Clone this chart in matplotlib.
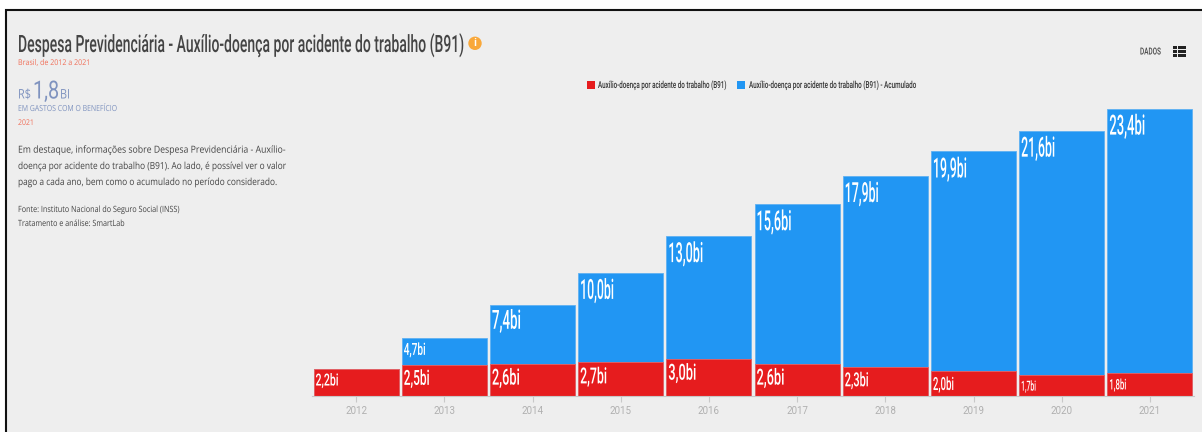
import matplotlib

matplotlib.use("Agg")
import matplotlib.pyplot as plt
from matplotlib.patches import Ellipse, Rectangle
from matplotlib.patheffects import AbstractPathEffect
from matplotlib.text import Text
from matplotlib.transforms import Affine2D, Bbox, ScaledTranslation

W, H = 1202, 432
NARROW = ["Roboto", "DejaVu Sans"]
BODY = ["Open Sans", "DejaVu Sans"]

years = ["2012", "2013", "2014", "2015", "2016", "2017", "2018", "2019", "2020", "2021"]
anual = [2.2, 2.5, 2.6, 2.7, 3.0, 2.6, 2.3, 2.0, 1.7, 1.8]
acumulado = [2.2, 4.7, 7.4, 10.0, 13.0, 15.6, 17.9, 19.9, 21.6, 23.4]
anual_labels = ["2,2bi", "2,5bi", "2,6bi", "2,7bi", "3,0bi", "2,6bi", "2,3bi", "2,0bi", "1,7bi", "1,8bi"]
acum_labels = ["", "4,7bi", "7,4bi", "10,0bi", "13,0bi", "15,6bi", "17,9bi", "19,9bi", "21,6bi", "23,4bi"]
serie_anual = "Auxílio-doença por acidente do trabalho (B91)"
serie_acum = "Auxílio-doença por acidente do trabalho (B91) - Acumulado"
paragraph = [
    "Em destaque, informações sobre Despesa Previdenciária - Auxílio-",
    "doença por acidente do trabalho (B91). Ao lado, é possível ver o valor",
    "pago a cada ano, bem como o acumulado no período considerado.",
]

anual_sizes = [12, 15, 16, 16, 16, 16, 14, 13, 10, 10.5]
anual_widths = [23, 26, 28, 27, 28, 28, 24, 21, 15, 17]
acum_sizes = [0, 12, 19, 20, 20, 20, 20, 20, 20, 20]
acum_widths = [0, 22, 29, 34, 35, 35, 34, 34, 34, 36]

RED = "#e61c1e"
BLUE = "#2196f3"
BG = "#eeeeee"
DARK = "#444444"
CORAL = "#f0705a"
SLATE = "#7f93bf"


class Squeeze(AbstractPathEffect):
    def __init__(self, factor):
        super().__init__()
        self.factor = factor

    def draw_path(self, renderer, gc, tpath, affine, rgbFace=None):
        renderer.draw_path(gc, tpath, Affine2D().scale(self.factor, 1) + affine, rgbFace)


# nenhuma fonte condensada instalada: texto real, comprimido na horizontal
class NarrowText(Text):
    squeeze = 1.0

    def set_squeeze(self, squeeze):
        self.squeeze = squeeze
        self.set_path_effects([Squeeze(squeeze)])

    def fit_width(self, width):
        self.set_squeeze(1.0)
        natural = self.get_window_extent(fig.canvas.get_renderer()).width
        self.set_squeeze(width / natural)

    def _get_layout(self, renderer):
        bb, info, descent = super()._get_layout(renderer)
        return Bbox.from_bounds(bb.x0, bb.y0, bb.width * self.squeeze, bb.height), info, descent


def px(x, y):
    return x / W, 1 - y / H


def put(x, y, s, size, width, color=DARK, family=NARROW, **kwargs):
    t = NarrowText(*px(x, y), s, fontsize=size, color=color, family=family, va="baseline", ha="left",
                   transform=fig.transFigure, **kwargs)
    fig.add_artist(t)
    t.fit_width(width)
    return t


def box(x0, y0, x1, y1, **kwargs):
    kwargs.setdefault("edgecolor", "none")
    fig.add_artist(Rectangle(px(x0, y1), (x1 - x0) / W, (y1 - y0) / H, transform=fig.transFigure, **kwargs))


fig = plt.figure(figsize=(W / 100, H / 100), dpi=100, facecolor="white")

# painel cinza com a borda preta do print
box(5.5, 9.5, 1210, 440, facecolor=BG, edgecolor="#111111", linewidth=1.5, zorder=-1)

ax = fig.add_axes([312 / W, 1 - 395.5 / H, 882 / W, 295.5 / H])
ax.patch.set_alpha(0)
x = range(len(years))
ax.bar(x, acumulado, width=0.965, color=BLUE, edgecolor="#5fb1f2", linewidth=0.6)
ax.bar(x, anual, width=0.965, color=RED, edgecolor="#ec6060", linewidth=0.6)
ax.set_xlim(-0.5, 9.5)
ax.set_ylim(0, 24.1)
ax.set_xticks(list(x))
ax.set_xticklabels(years, fontsize=7, color="#b0b0b0", family="Roboto")
ax.tick_params(axis="x", length=4, color="#c8c8c8", width=0.8, pad=3.6)
ax.set_yticks([])
for side in ["top", "left", "right"]:
    ax.spines[side].set_visible(False)
ax.spines["bottom"].set_color("#c8c8c8")

label_tf = ax.transData + ScaledTranslation(0, -3.6 / 72, fig.dpi_scale_trans)
for i in x:
    t = NarrowText(i - 0.46, anual[i], anual_labels[i], transform=label_tf, va="top", ha="left",
                   color="white", fontsize=anual_sizes[i], family=NARROW, fontweight="medium")
    ax.add_artist(t)
    t.fit_width(anual_widths[i])
    if acum_labels[i]:
        t = NarrowText(i - 0.46, acumulado[i], acum_labels[i], transform=label_tf, va="top", ha="left",
                       color="white", fontsize=acum_sizes[i], family=NARROW, fontweight="medium")
        ax.add_artist(t)
        t.fit_width(acum_widths[i])

# legenda
box(587, 81, 595, 89, facecolor=RED)
put(598, 88, serie_anual, 7, 129, color="#333333", fontweight="medium")
box(737, 81, 745, 89, facecolor=BLUE)
put(749, 88, serie_acum, 7, 168, color="#333333", fontweight="medium")

# textos da esquerda
put(18, 52, "Despesa Previdenciária - Auxílio-doença por acidente do trabalho (B91)", 17.2, 446, fontweight="medium")
put(18, 65, "Brasil, de 2012 a 2021", 5.7, 72, color=CORAL, family=BODY)
put(18, 98.5, "R$", 9.5, 13, color=SLATE, family=BODY)
put(33, 98.5, "1,8", 18, 26, color=SLATE, family="Roboto")
put(60, 98.5, "BI", 9.5, 10, color=SLATE, family=BODY)
put(18, 111, "EM GASTOS COM O BENEFÍCIO", 6, 100, color=SLATE, family=BODY)
put(18, 125, "2021", 5.7, 16, color=CORAL, family=BODY)

for line, y, w in zip(paragraph, [152.7, 169, 185], [270, 270, 261]):
    put(18, y, line, 7, w, family=BODY)
put(18, 212, "Fonte: Instituto Nacional do Seguro Social (INSS)", 6.2, 163, family=BODY)
put(18, 226, "Tratamento e análise: SmartLab", 6.2, 107, family=BODY)

# icone de informacao
fig.add_artist(Ellipse(px(475, 43.3), 13.4 / W, 13.4 / H, transform=fig.transFigure, facecolor="#f9a83a", edgecolor="none"))
fig.text(*px(475, 43.3), "i", va="center", ha="center", fontsize=7, color="white", fontweight="bold", family=BODY)

# DADOS e icone de tabela
put(1140, 54.5, "DADOS", 7, 21, fontweight="medium")
for y in [45.5, 49.5, 53.5]:
    box(1173, y, 1176.5, y + 3, facecolor="#222222")
    box(1177.5, y, 1185.5, y + 3, facecolor="#222222")

fig.savefig("out.png", dpi=100)
